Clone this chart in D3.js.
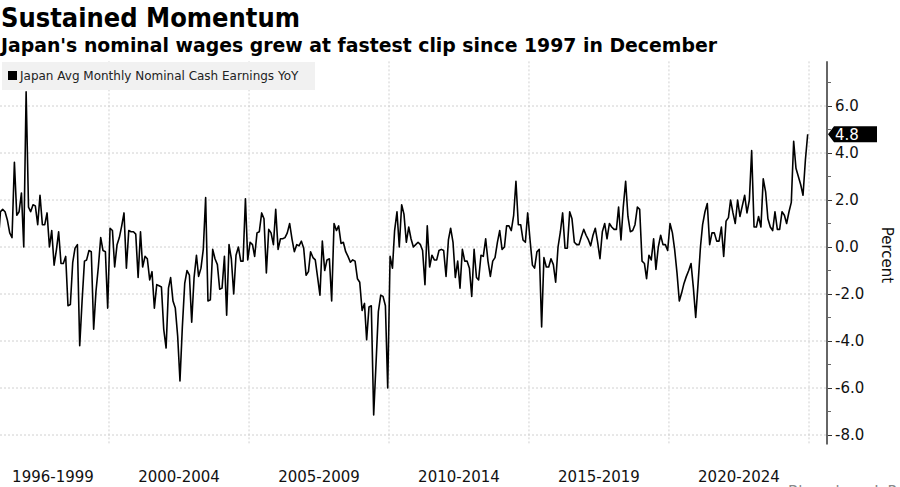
<!DOCTYPE html>
<html>
<head>
<meta charset="utf-8">
<script src="https://cdn.jsdelivr.net/npm/d3@7"></script>
<style>
  body { margin: 0; background: #fff; }
  svg { display: block; font-family: "DejaVu Sans", sans-serif; }
</style>
</head>
<body>
<script>
// monthly YoY %, Jan 1996 - Dec 2024
const startYear = 1996;
const yoy = [
  0.1, 1.5, 1.6, 1.5, 1.15, 0.6, 0.4, 3.6, 1.35, 1.5, 2.3, 0.0,
  6.6, 1.7, 1.5, 1.8, 1.75, 0.95, 2.2, 0.95, 0.95, 1.45, 0.0, 0.7,
  -0.77, -0.1, 0.65, -0.7, -0.7, -0.4, -2.5, -2.45, -0.65, -0.05, 0.1, -4.2,
  -2.3, -0.6, -0.55, -0.15, -0.2, -3.5, -1.9, -0.85, 0.4, -0.15, -0.2, -2.6,
  0.8, 0.7, -0.85, 0.1, 0.4, 0.9, 1.45, -0.9, 0.7, 0.65, 0.65, 0.55,
  -1.3, 0.65,
  -0.85, -0.4, -0.5, -1.4, -1.05, -2.6, -1.6, -1.65, -1.7, -3.5,
  -4.3, -1.75, -1.3, -2.3, -2.6, -3.8, -5.7, -3.4, -1.55, -1.0, -1.2, -3.2,
  -1.3, -0.35, -1.25, -0.9, -0.1, 2.1, -2.3, -2.25, -0.1, -0.5, -0.75, -1.8,
  -1.75, -0.4, -2.9, 0.1, -0.5, -2.0, -0.35, 0.0, -0.6, -0.6, 2.05, -0.55,
  0.2, 0.1, -0.4, 0.6, 0.65, 1.45, 1.2, -1.1, 0.75,
  0.6, 0.1, 1.6, -0.1, 0.35, 0.35, 0.4, 0.6, 1.0, 0.35, -0.2, 0.1,
  0.05, 0.25, -0.05, -1.2, -1.05, -0.2, -0.45, -0.55, -1.3, -2.05, 0.25, -1.0,
  -0.55, -0.5, -2.3, 1.0, 0.7, 0.9, 0.15, 0.2, -0.2, -0.4, -0.65, -0.55,
  -0.6, -1.35, -1.5, -2.7, -2.4, -3.95, -2.55, -2.5, -7.15, -5.0, -2.75, -2.05,
  -2.1, -2.5, -6.0, -0.4, -0.9, 0.7, 1.5, 0.0,
  1.8, 1.4, 0.2, 0.85, 0.35, 0.0, 0.1, 0.2, 0.1, -0.15, -1.6, 0.9,
  -0.85, -0.35, -0.55, -0.55, -0.15, -0.1, -0.15, -1.25, 0.3, 0.8, 0.2, -1.3,
  -0.6, -1.75, -0.1, -0.6, -0.6, -0.9, -2.1, -0.1, -1.3, -1.4, -0.35, -0.4,
  0.35, -0.6, -1.25, -0.6, -0.45, 0.2, 0.7, -0.1, 0.0, 0.9, 0.9, 0.7,
  1.35, 2.8, 0.95, 0.95, 0.3, 0.2, 1.45,
  0.3, -0.77, -0.9, -0.2, -0.1, -3.4, -0.45, -0.85, -0.85, -0.5, -0.75, -1.5,
  0.0, 0.65, 1.45, -0.05, -0.05, 1.5, 1.2, 0.2, 0.1, 0.1, 0.45, 0.75,
  0.5, 0.3, 0.05, 0.5, 0.8, 0.2, -0.5, 0.65, 1.0, 0.35, 1.0, 0.85,
  0.75, 0.75, 1.7, 0.3, 1.7, 2.8, 1.3, 0.65, 0.7, 0.95, 1.7, 1.6,
  -0.6, -0.7, -1.35, -0.35, -0.55, 0.35, -0.95, 0.0,
  0.5, 0.1, 0.1, -0.15, 1.0, 0.6, -0.1, -1.1, -2.3, -1.95, -1.55, -1.25,
  -1.0, -0.7, -1.75, -3.0, -1.55, 0.0, 0.95, 1.5, 1.85, 0.1, 0.6, 0.6,
  0.25, 0.25, 0.85, -0.4, 1.1, 1.25, 2.0, 1.45, 1.0, 2.0, 1.3, 1.75,
  2.2, 1.45, 2.0, 4.1, 0.85, 0.85, 1.3, 0.85, 2.9, 2.35, 1.2, 0.85,
  0.7, 1.5, 0.75, 0.75, 1.5, 1.35, 1.0, 1.5, 1.9, 4.5, 3.35, 3.0,
  2.65, 2.2, 3.7, 4.8
];
const periods = ["1996-1999", "2000-2004", "2005-2009", "2010-2014", "2015-2019", "2020-2024"];
const periodStart = [1996, 2000, 2005, 2010, 2015, 2020];
const periodEnd = [2000, 2005, 2010, 2015, 2020, 2025];
const gridYears = [2000, 2005, 2010, 2015, 2020, 2025];
const yTicks = [-8, -6, -4, -2, 0, 2, 4, 6];
const yMinor = [-7, -5, -3, -1, 1, 3, 5, 7];

const W = 900, H = 487;
const axisX = 827;

const data = yoy.map((v, i) => ({
  date: new Date(startYear + Math.floor(i / 12), i % 12, 15),
  value: v
}));

const svg = d3.select("body").append("svg")
  .attr("width", W)
  .attr("height", H);

const x = d3.scaleTime()
  .domain([new Date(1996, 0, 1), new Date(2025, 0, 1)])
  .range([-3, 809]);

const y = d3.scaleLinear()
  .domain([-8, 6])
  .range([435, 106]);

const yTop = y(7.9), yBot = y(-8.4);

// titles
svg.append("text")
  .attr("x", 1).attr("y", 27)
  .attr("font-size", 27).attr("font-weight", "bold")
  .attr("textLength", 299).attr("lengthAdjust", "spacingAndGlyphs")
  .text("Sustained Momentum");
svg.append("text")
  .attr("x", 1).attr("y", 52)
  .attr("font-size", 19).attr("font-weight", "bold")
  .attr("textLength", 716).attr("lengthAdjust", "spacingAndGlyphs")
  .text("Japan's nominal wages grew at fastest clip since 1997 in December");

// grid
svg.append("g")
  .selectAll("line")
  .data(yTicks)
  .join("line")
  .attr("x1", 0).attr("x2", axisX)
  .attr("y1", d => y(d)).attr("y2", d => y(d))
  .attr("stroke", "#d0d0d0")
  .attr("stroke-dasharray", "2,2");

svg.append("g")
  .selectAll("line")
  .data(gridYears)
  .join("line")
  .attr("x1", d => x(new Date(d, 0, 1))).attr("x2", d => x(new Date(d, 0, 1)))
  .attr("y1", yTop).attr("y2", yBot)
  .attr("stroke", "#d0d0d0")
  .attr("stroke-dasharray", "2,2");

// legend
svg.append("rect")
  .attr("x", 2).attr("y", 62)
  .attr("width", 313).attr("height", 28)
  .attr("fill", "#f1f1f1");
svg.append("rect")
  .attr("x", 8).attr("y", 71)
  .attr("width", 9).attr("height", 9)
  .attr("fill", "#000");
svg.append("text")
  .attr("x", 20).attr("y", 80)
  .attr("font-size", 12).attr("fill", "#222")
  .text("Japan Avg Monthly Nominal Cash Earnings YoY");

// line
svg.append("clipPath").attr("id", "clip")
  .append("rect")
  .attr("x", 0).attr("y", 0)
  .attr("width", axisX).attr("height", H);

const line = d3.line()
  .x(d => x(d.date))
  .y(d => y(d.value));

svg.append("path")
  .datum(data)
  .attr("clip-path", "url(#clip)")
  .attr("fill", "none")
  .attr("stroke", "#000")
  .attr("stroke-width", 1.6)
  .attr("stroke-linejoin", "round")
  .attr("d", line);

// right axis
const axis = svg.append("g")
  .attr("transform", `translate(${axisX},0)`)
  .call(d3.axisRight(y)
    .tickValues(yTicks)
    .tickSize(5)
    .tickPadding(3)
    .tickFormat(d => d.toFixed(1)));
axis.select(".domain").remove();
axis.selectAll("text")
  .attr("font-size", 15)
  .attr("font-family", "DejaVu Sans, sans-serif")
  .attr("fill", "#111");
axis.selectAll(".tick line").attr("stroke", "#333");

svg.append("line")
  .attr("x1", axisX).attr("x2", axisX)
  .attr("y1", yTop).attr("y2", yBot)
  .attr("stroke", "#666")
  .attr("stroke-width", 2);

svg.append("g")
  .selectAll("line")
  .data(yMinor)
  .join("line")
  .attr("x1", axisX).attr("x2", axisX + 4)
  .attr("y1", d => y(d)).attr("y2", d => y(d))
  .attr("stroke", "#666");

// last value tag
const last = data[data.length - 1];
const ty = y(last.value);
svg.append("path")
  .attr("d", `M${axisX + 1},${ty} L${axisX + 7},${ty - 8} L${axisX + 50},${ty - 8} L${axisX + 50},${ty + 8} L${axisX + 7},${ty + 8} Z`)
  .attr("fill", "#000");
svg.append("text")
  .attr("x", axisX + 8).attr("y", ty + 5.5)
  .attr("font-size", 15).attr("fill", "#fff")
  .text(last.value.toFixed(1));

// axis title
svg.append("text")
  .attr("transform", `translate(882,255) rotate(90)`)
  .attr("text-anchor", "middle")
  .attr("font-size", 15).attr("fill", "#111")
  .text("Percent");

// period labels
svg.append("g")
  .selectAll("text")
  .data(periods)
  .join("text")
  .attr("x", (d, i) => (x(new Date(periodStart[i], 0, 1)) + x(new Date(periodEnd[i], 0, 1))) / 2)
  .attr("y", 482)
  .attr("text-anchor", "middle")
  .attr("font-size", 15).attr("fill", "#111")
  .text(d => d);

// source, cut off at the bottom edge as in the original
svg.append("text")
  .attr("x", 788).attr("y", 497)
  .attr("font-size", 15).attr("fill", "#888")
  .text("Bloomberg L.P.");
</script>
</body>
</html>
